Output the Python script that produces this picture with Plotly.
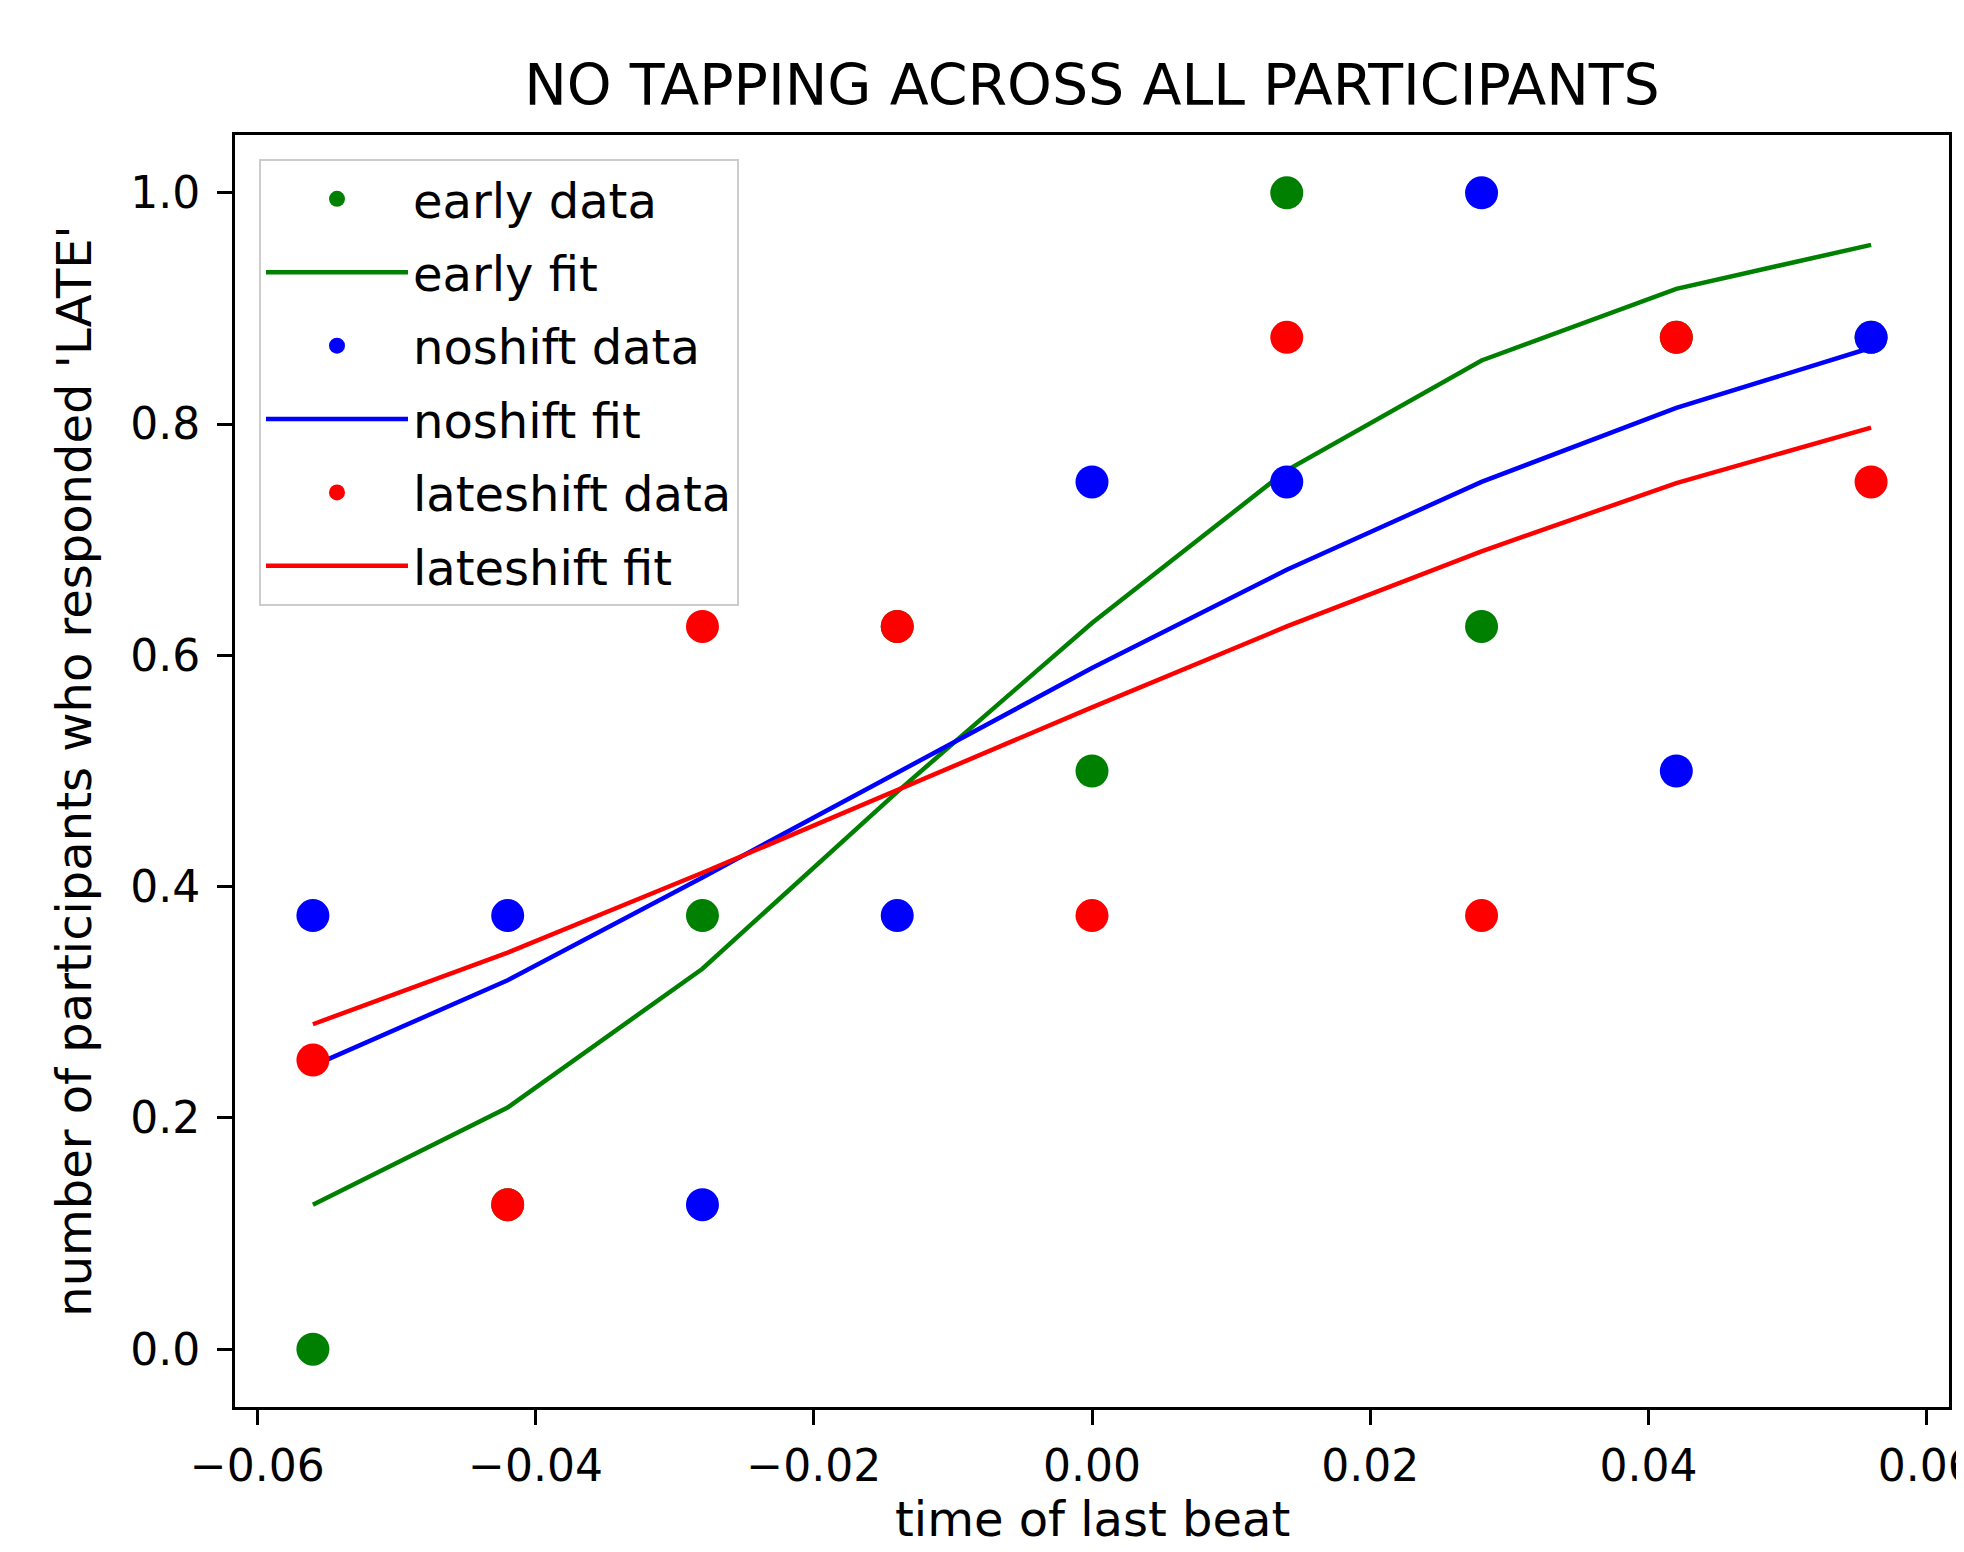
import plotly.graph_objects as go

# ---- data ----
beat_times = [-0.056, -0.042, -0.028, -0.014, 0.0, 0.014, 0.028, 0.042, 0.056]

early_data = [0.0, 0.125, 0.375, 0.625, 0.5, 1.0, 0.625, 0.875, 0.875]
early_fit = [0.125, 0.209, 0.329, 0.482, 0.628, 0.760, 0.855, 0.917, 0.955]

noshift_data = [0.375, 0.375, 0.125, 0.375, 0.75, 0.75, 1.0, 0.5, 0.875]
noshift_fit = [0.245, 0.319, 0.408, 0.498, 0.589, 0.674, 0.750, 0.814, 0.866]

lateshift_data = [0.25, 0.125, 0.625, 0.625, 0.375, 0.875, 0.375, 0.875, 0.75]
lateshift_fit = [0.281, 0.343, 0.412, 0.484, 0.555, 0.625, 0.690, 0.749, 0.797]

x_tick_vals = [-0.06, -0.04, -0.02, 0.0, 0.02, 0.04, 0.06]
x_tick_text = ["\u22120.06", "\u22120.04", "\u22120.02", "0.00", "0.02", "0.04", "0.06"]
y_tick_vals = [0.0, 0.2, 0.4, 0.6, 0.8, 1.0]
y_tick_text = ["0.0", "0.2", "0.4", "0.6", "0.8", "1.0"]

FONT = "DejaVu Sans"
W, H = 1948, 1536          # page body has an 8px margin
L, R, T, B = 227, 7, 127, 137

fig = go.Figure()

series = [
    ("early", early_data, early_fit, "#008000"),
    ("noshift", noshift_data, noshift_fit, "#0000ff"),
    ("lateshift", lateshift_data, lateshift_fit, "#ff0000"),
]
for name, data, fit, color in series:
    fig.add_trace(go.Scatter(
        x=beat_times, y=data, mode="markers", name=f"{name} data",
        legendgroup=f"{name}d",
        marker=dict(color=color, size=33, line=dict(width=0)),
    ))
    fig.add_trace(go.Scatter(
        x=beat_times, y=fit, mode="lines", name=f"{name} fit",
        legendgroup=f"{name}f",
        line=dict(color=color, width=4.5),
    ))

axis_common = dict(
    showline=True, linecolor="black", linewidth=3, mirror=True,
    ticks="outside", ticklen=15, tickwidth=3, tickcolor="black",
    showgrid=False, zeroline=False,
    tickfont=dict(family=FONT, size=44, color="black"),
    ticklabeloverflow="allow",
)

fig.update_layout(
    width=W, height=H,
    margin=dict(l=L, r=R, t=T, b=B, autoexpand=False),
    paper_bgcolor="white", plot_bgcolor="white",
    font=dict(family=FONT, color="black"),
    title=dict(
        text="NO TAPPING ACROSS ALL PARTICIPANTS",
        font=dict(family=FONT, size=57, color="black"),
        x=(L + (W - R)) / 2 / W, xanchor="center",
        y=1 - 77 / H, yanchor="middle", yref="container",
    ),
    xaxis=dict(
        range=[-0.0616, 0.0616],
        tickvals=x_tick_vals, ticktext=x_tick_text,
        ticklabelstandoff=3,
        **axis_common,
    ),
    yaxis=dict(
        range=[-0.05, 1.05],
        tickvals=y_tick_vals, ticktext=y_tick_text,
        ticklabelstandoff=8,
        title=dict(text="number of participants who responded 'LATE'", font=dict(family=FONT, size=48), standoff=24),
        **axis_common,
    ),
    legend=dict(
        x=0.014, y=0.981, xanchor="left", yanchor="top",
        bgcolor="rgba(255,255,255,0.8)", bordercolor="#cccccc", borderwidth=2,
        font=dict(family=FONT, size=48, color="black"),
        traceorder="grouped", tracegroupgap=8,
        itemwidth=142,
    ),
    showlegend=True,
    annotations=[dict(
        text="time of last beat", xref="paper", yref="paper",
        x=0.5, y=0, xanchor="center", yanchor="middle", yshift=-112,
        showarrow=False, font=dict(family=FONT, size=48, color="black"),
    )],
)

fig.write_html("out.html")
